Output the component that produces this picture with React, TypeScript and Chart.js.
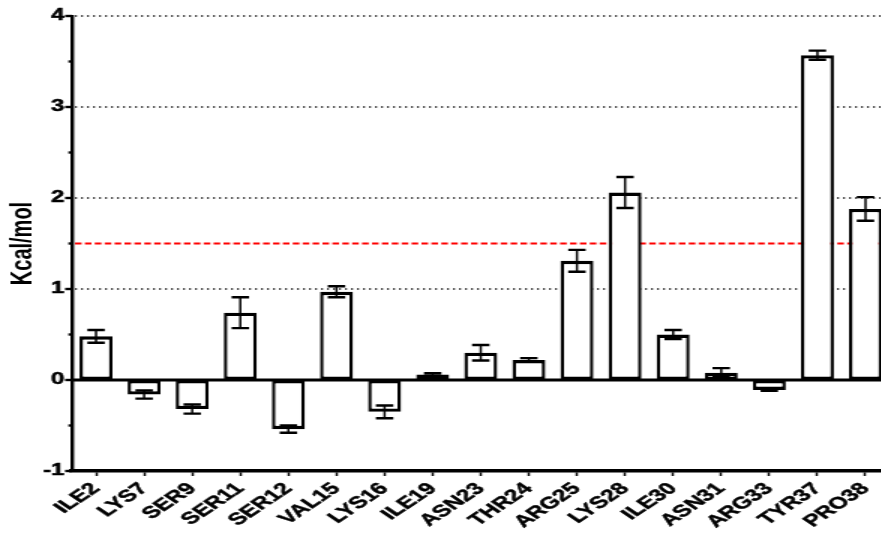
import React, { useEffect, useRef } from 'react';
import { Chart, registerables } from 'chart.js';

Chart.register(...registerables);

// ---- data ----
const categories = ['ILE2', 'LYS7', 'SER9', 'SER11', 'SER12', 'VAL15', 'LYS16', 'ILE19', 'ASN23', 'THR24', 'ARG25', 'LYS28', 'ILE30', 'ASN31', 'ARG33', 'TYR37', 'PRO38'];
const energies = [0.48, -0.16, -0.32, 0.74, -0.54, 0.97, -0.35, 0.06, 0.3, 0.22, 1.31, 2.06, 0.5, 0.08, -0.11, 3.57, 1.88];
const errors = [0.07, 0.045, 0.05, 0.17, 0.04, 0.06, 0.07, 0.015, 0.085, 0.02, 0.12, 0.17, 0.05, 0.05, 0.01, 0.05, 0.13];
const yMin = -1;
const yMax = 4;
const gridValues = [1, 2, 3, 4];
const minorTickValues = [-0.5, 0.5, 1.5, 2.5, 3.5];
const thresholdValue = 1.5;
const yAxisTitle = 'Kcal/mol';

// horizontal stretch of the whole figure
const STRETCH = 1.5;
const CANVAS_W = 594;
const CANVAS_H = 539;
const FONT = 'Arial, "Liberation Sans", Helvetica, sans-serif';

const decorPlugin = {
  id: 'decor',
  beforeDatasetsDraw(chart: any) {
    const { ctx, chartArea: a, scales } = chart;
    const y = scales.y;
    ctx.save();
    ctx.strokeStyle = '#111';
    ctx.lineWidth = 1.6;
    ctx.setLineDash([1.3, 2.7]);
    for (const v of gridValues) {
      const py = y.getPixelForValue(v);
      ctx.beginPath();
      ctx.moveTo(a.left + 2, py);
      ctx.lineTo(a.right, py);
      ctx.stroke();
    }
    ctx.strokeStyle = '#ff0000';
    ctx.lineWidth = 1.8;
    ctx.setLineDash([4.4, 2.2]);
    const ty = y.getPixelForValue(thresholdValue);
    ctx.beginPath();
    ctx.moveTo(a.left + 2, ty);
    ctx.lineTo(a.right, ty);
    ctx.stroke();
    ctx.restore();
  },
  afterDatasetsDraw(chart: any) {
    const { ctx, chartArea: a, scales } = chart;
    const y = scales.y;
    ctx.save();
    ctx.setLineDash([]);
    ctx.strokeStyle = '#000';
    // zero line
    const zy = y.getPixelForValue(0);
    ctx.lineWidth = 3;
    ctx.beginPath();
    ctx.moveTo(a.left, zy);
    ctx.lineTo(a.right, zy);
    ctx.stroke();
    // error bars
    const meta = chart.getDatasetMeta(0);
    meta.data.forEach((bar: any, i: number) => {
      const x = bar.x;
      const yt = y.getPixelForValue(energies[i] + errors[i]);
      const yb = y.getPixelForValue(energies[i] - errors[i]);
      ctx.lineWidth = 1.5;
      ctx.beginPath();
      ctx.moveTo(x, yt);
      ctx.lineTo(x, yb);
      ctx.stroke();
      ctx.lineWidth = 2.4;
      const hw = 5.8;
      ctx.beginPath();
      ctx.moveTo(x - hw, yt);
      ctx.lineTo(x + hw, yt);
      ctx.moveTo(x - hw, yb);
      ctx.lineTo(x + hw, yb);
      ctx.stroke();
    });
    ctx.restore();
  },
  afterDraw(chart: any) {
    const { ctx, chartArea: a, scales } = chart;
    const y = scales.y;
    ctx.save();
    ctx.strokeStyle = '#000';
    ctx.lineWidth = 2.4;
    for (let v = yMin; v <= yMax; v += 1) {
      const py = y.getPixelForValue(v);
      ctx.beginPath();
      ctx.moveTo(a.left - 4.6, py);
      ctx.lineTo(a.left, py);
      ctx.stroke();
    }
    for (const v of minorTickValues) {
      const py = y.getPixelForValue(v);
      ctx.beginPath();
      ctx.moveTo(a.left - 2.4, py);
      ctx.lineTo(a.left, py);
      ctx.stroke();
    }
    ctx.restore();
  },
};

export default function App() {
  const canvasRef = useRef<HTMLCanvasElement | null>(null);

  useEffect(() => {
    if (!canvasRef.current) return;
    const chart = new Chart(canvasRef.current, {
      type: 'bar',
      data: {
        labels: categories,
        datasets: [
          {
            data: energies,
            backgroundColor: '#ffffff',
            borderColor: '#000000',
            borderWidth: { top: 3.4, bottom: 3.4, left: 2.4, right: 2.4 } as any,
            borderSkipped: false,
            barPercentage: 0.686,
            categoryPercentage: 1,
          },
        ],
      },
      options: {
        animation: false,
        responsive: false,
        devicePixelRatio: 1,
        layout: { padding: { top: 16, left: 0, right: 0, bottom: 0 } },
        plugins: { legend: { display: false }, tooltip: { enabled: false } },
        scales: {
          x: {
            offset: true,
            grid: {
              display: true,
              drawOnChartArea: false,
              drawTicks: true,
              tickLength: 5,
              tickWidth: 1.5,
              tickColor: '#000',
              offset: false,
            },
            border: { display: true, color: '#000', width: 3.4 },
            ticks: {
              autoSkip: false,
              maxRotation: 45,
              minRotation: 45,
              padding: 3,
              color: '#000',
              textStrokeColor: '#000',
              textStrokeWidth: 0.5,
              font: { family: FONT, size: 16.5, weight: 'bold' },
            },
            afterFit: (s: any) => {
              s.height = 68;
            },
          },
          y: {
            min: yMin,
            max: yMax,
            afterFit: (s: any) => {
              s.width = 48;
            },
            grid: { display: false, drawTicks: false },
            border: { display: true, color: '#000', width: 2.4 },
            ticks: {
              stepSize: 1,
              padding: 5,
              color: '#000',
              textStrokeColor: '#000',
              textStrokeWidth: 0.5,
              font: { family: FONT, size: 16, weight: 'bold' },
            },
            title: {
              display: true,
              text: yAxisTitle,
              color: '#000',
              font: { family: FONT, size: 20, weight: 'bold' },
              padding: { top: 3, bottom: 0 },
            },
          },
        },
      },
      plugins: [decorPlugin],
    } as any);
    return () => chart.destroy();
  }, []);

  return (
    <div
      style={{
        position: 'absolute',
        left: 0,
        top: 0,
        width: 881,
        height: 539,
        overflow: 'hidden',
        background: '#fff',
      }}
    >
      <div
        style={{
          width: CANVAS_W,
          height: CANVAS_H,
          transform: `scaleX(${STRETCH})`,
          transformOrigin: '0 0',
        }}
      >
        <canvas ref={canvasRef} width={CANVAS_W} height={CANVAS_H} style={{ display: 'block' }} />
      </div>
    </div>
  );
}
